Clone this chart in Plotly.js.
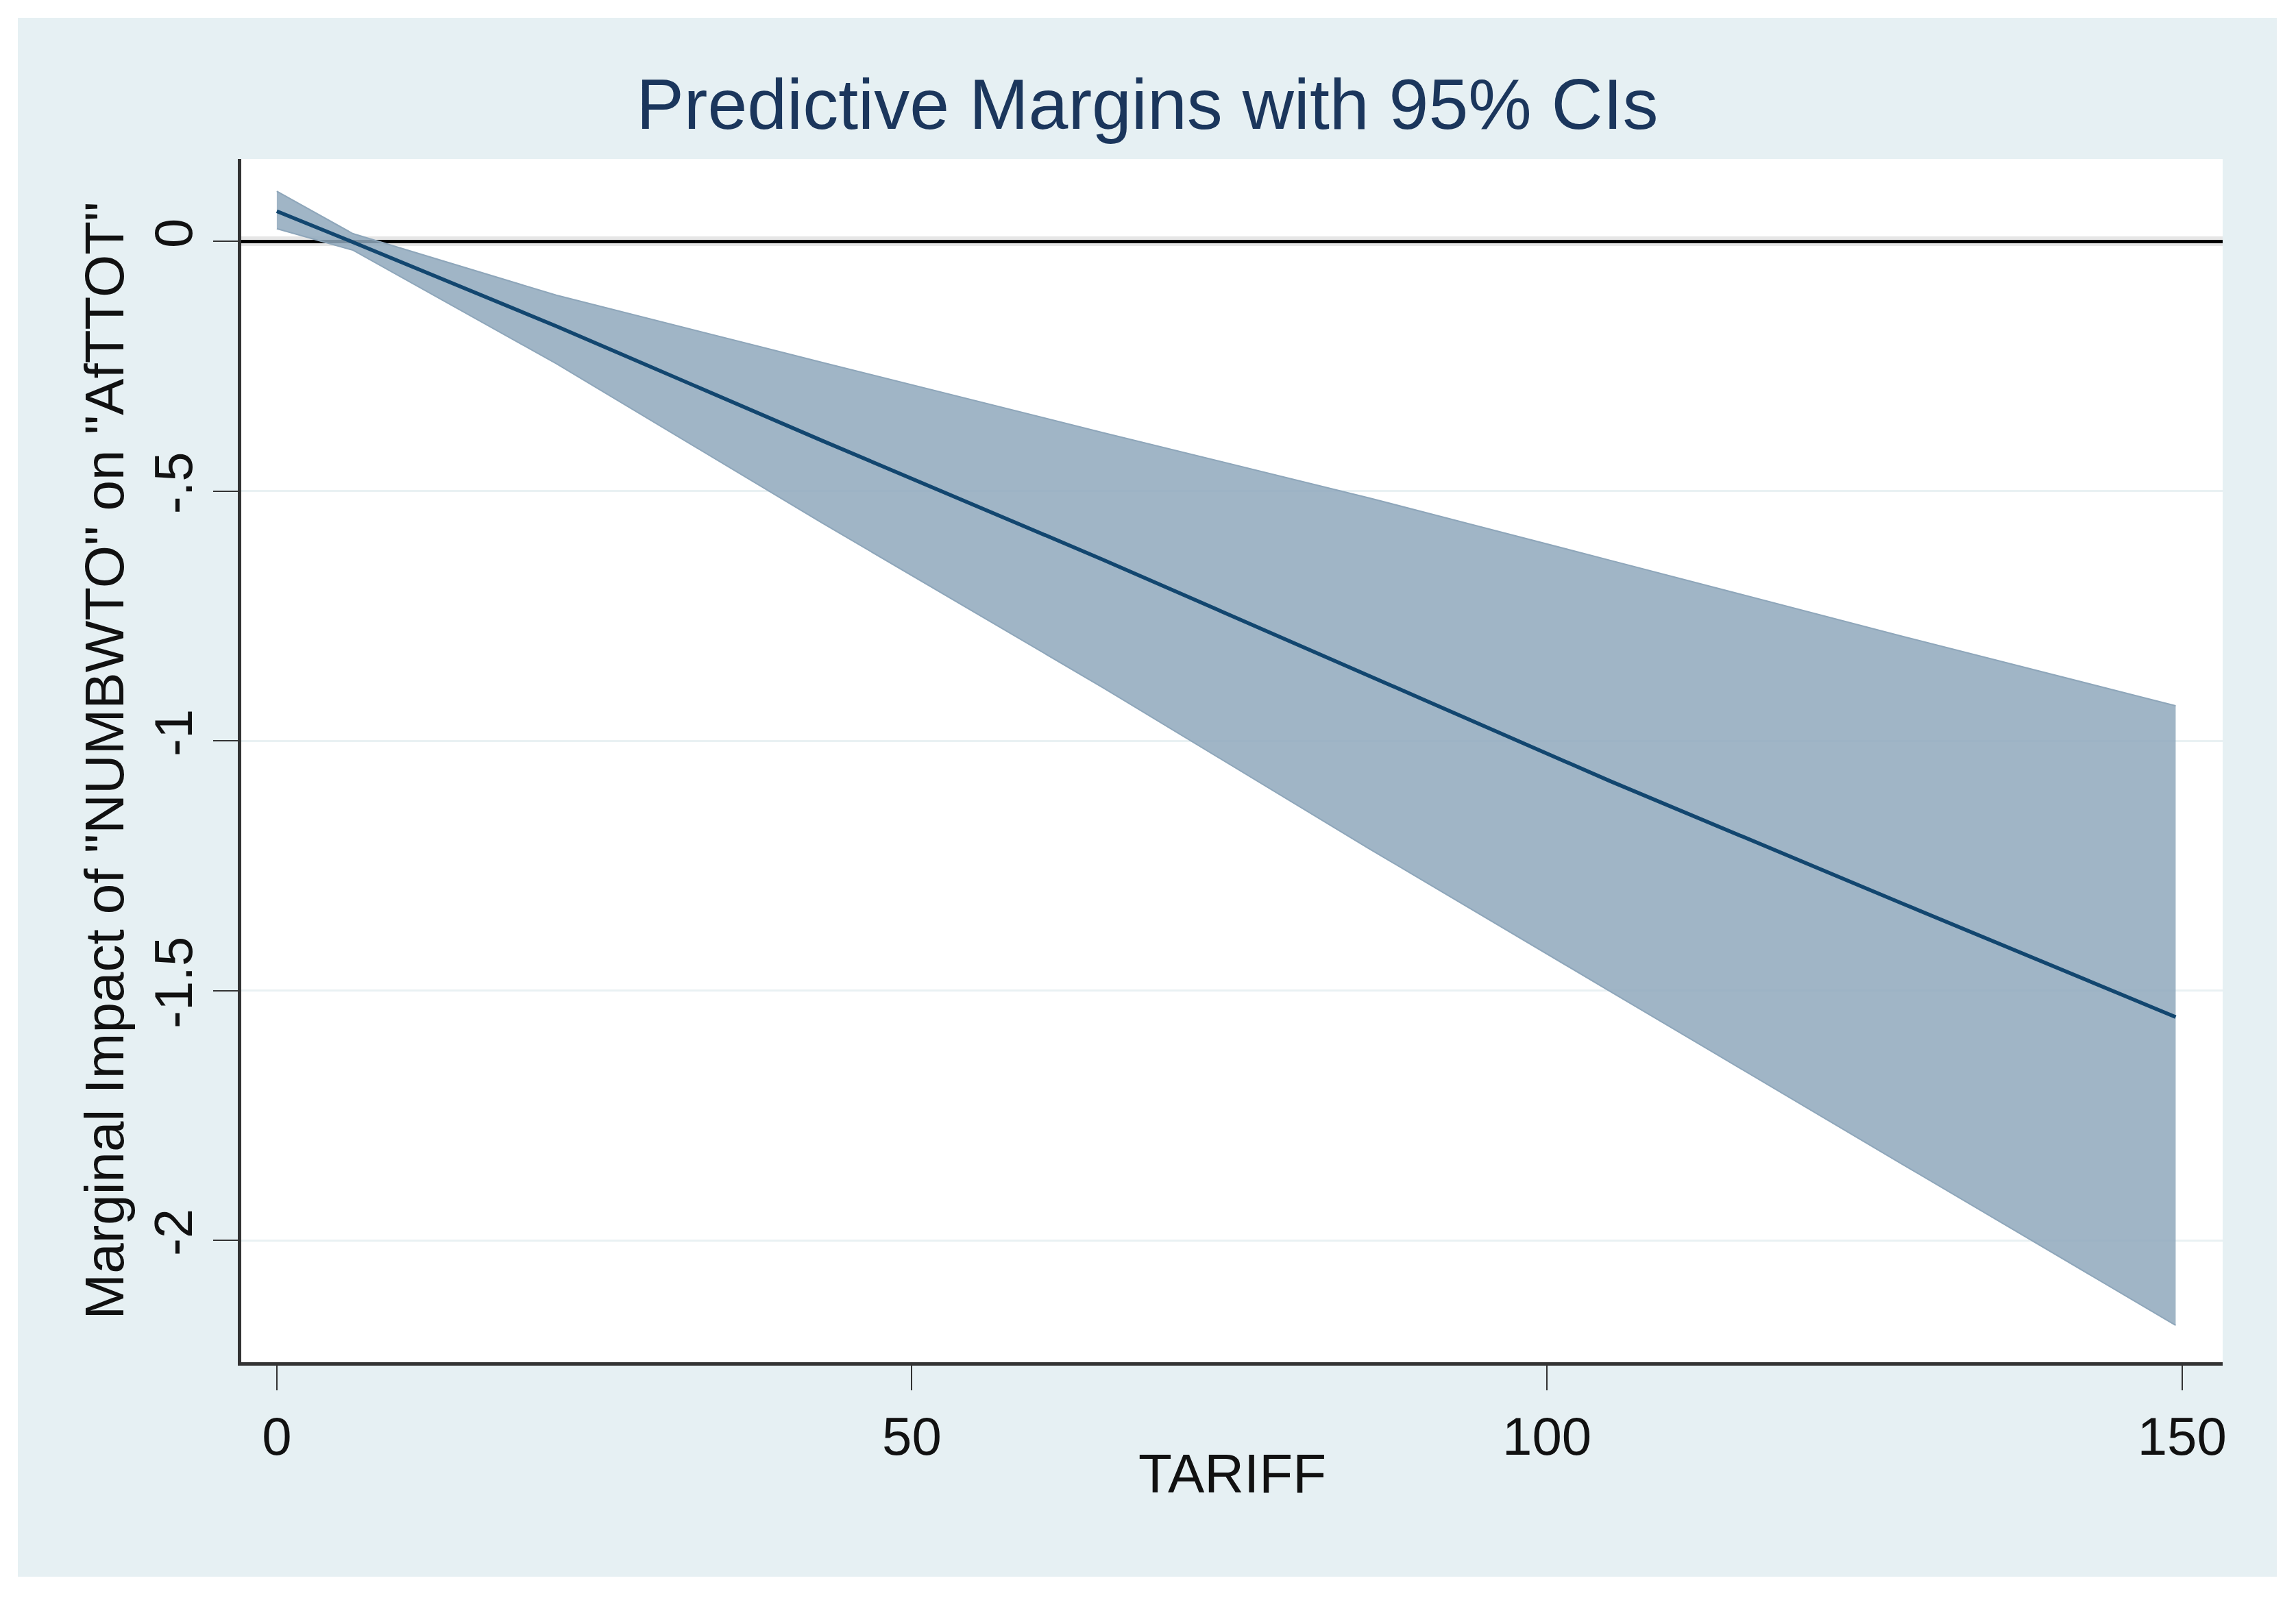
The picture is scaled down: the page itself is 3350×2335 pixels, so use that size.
<!DOCTYPE html>
<html>
<head>
<meta charset="utf-8">
<script src="https://cdn.plot.ly/plotly-3.0.1.min.js"></script>
<style>
  html, body { margin: 0; padding: 0; background: #ffffff; width: 3350px; height: 2335px; overflow: hidden; }
  #chart { position: absolute; left: 26px; top: 26px; width: 3296px; height: 2275px; }
</style>
</head>
<body>
<div id="chart"></div>
<script>
// Data
const tariff   = [0, 6, 22, 43, 65, 86, 105, 128, 149.5];
const margin   = [0.060, -0.002, -0.170, -0.400, -0.637, -0.870, -1.081, -1.326, -1.553];
const ciUpper  = [0.100, 0.015, -0.108, -0.243, -0.383, -0.514, -0.639, -0.791, -0.930];
const ciLower  = [0.025, -0.018, -0.245, -0.565, -0.893, -1.216, -1.502, -1.848, -2.170];

const xTickVals = [0, 50, 100, 150];
const xTickText = ["0", "50", "100", "150"];
const yTickVals = [0, -0.5, -1, -1.5, -2];
const yTickText = ["0", "-.5", "-1", "-1.5", "-2"];

const FONT = '"Liberation Sans", Arial, Helvetica, sans-serif';

const traces = [
  {
    x: tariff, y: ciLower, type: 'scatter', mode: 'lines',
    line: { color: '#8ea6ba', width: 2 },
    hoverinfo: 'skip', showlegend: false
  },
  {
    x: tariff, y: ciUpper, type: 'scatter', mode: 'lines',
    fill: 'tonexty', fillcolor: 'rgba(143,168,188,0.85)',
    line: { color: '#8ea6ba', width: 2 },
    hoverinfo: 'skip', showlegend: false
  },
  {
    x: tariff, y: margin, type: 'scatter', mode: 'lines',
    line: { color: '#12466f', width: 5.5 },
    showlegend: false
  }
];

const layout = {
  width: 3296, height: 2275,
  paper_bgcolor: '#e6f0f3',
  plot_bgcolor: '#ffffff',
  margin: { l: 326, r: 79, t: 206, b: 313, pad: 0 },
  font: { family: FONT, color: '#111111' },
  title: {
    text: 'Predictive Margins with 95% CIs',
    font: { family: FONT, size: 104, color: '#1b365c' },
    x: 0.5, xref: 'container', xanchor: 'center',
    y: 1 - 126 / 2275, yref: 'container', yanchor: 'middle'
  },
  xaxis: {
    range: [-2.8, 153.2],
    tickvals: xTickVals, ticktext: xTickText,
    ticks: 'outside', ticklen: 36, tickwidth: 2, tickcolor: '#333333',
    tickfont: { family: FONT, size: 78, color: '#111111' },
    showgrid: false, zeroline: false,
    showline: true, linecolor: '#333333', linewidth: 5,
    mirror: false
  },
  yaxis: {
    range: [-2.244, 0.1646],
    tickvals: yTickVals, ticktext: yTickText,
    tickangle: -90,
    ticks: 'outside', ticklen: 36, tickwidth: 2, tickcolor: '#333333',
    tickfont: { family: FONT, size: 78, color: '#111111' },
    showgrid: true, gridcolor: '#e9f1f3', gridwidth: 3,
    zeroline: true, zerolinecolor: '#000000', zerolinewidth: 5,
    showline: true, linecolor: '#333333', linewidth: 5,
    mirror: false,
    title: { text: 'Marginal Impact of "NUMBWTO" on "AfTTOT"', font: { family: FONT, size: 80, color: '#111111' }, standoff: 3 }
  },
  annotations: [
    {
      text: 'TARIFF', showarrow: false,
      xref: 'paper', x: 0.5, xanchor: 'center',
      yref: 'paper', y: -0.0928, yanchor: 'middle',
      font: { family: FONT, size: 80, color: '#111111' }
    }
  ],
  shapes: [
    {
      type: 'line', layer: 'below',
      xref: 'paper', x0: 0, x1: 1,
      yref: 'y', y0: 0, y1: 0,
      line: { color: '#e6e6e6', width: 14 }
    }
  ]
};

Plotly.newPlot('chart', traces, layout, { staticPlot: true, displayModeBar: false });
</script>
</body>
</html>
